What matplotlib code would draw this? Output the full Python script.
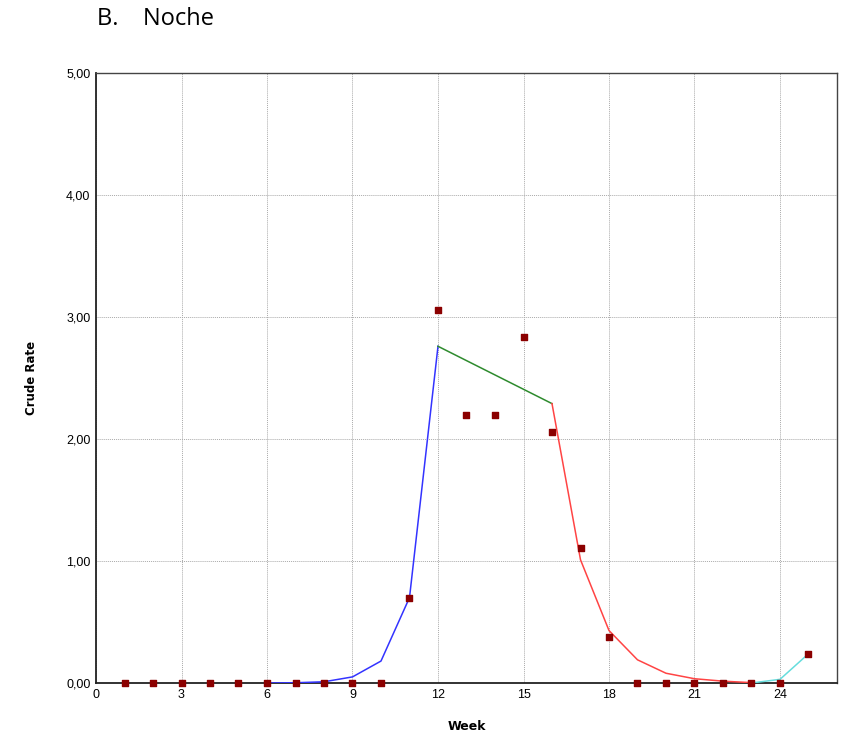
import matplotlib

matplotlib.use("Agg")

import matplotlib.pyplot as plt
from matplotlib.ticker import FuncFormatter

weeks = list(range(1, 26))
crude_rate = [0, 0, 0, 0, 0, 0, 0, 0, 0, 0, 0.70, 3.06, 2.20, 2.20, 2.84,
              2.06, 1.11, 0.38, 0, 0, 0, 0, 0, 0, 0.24]

rise_weeks = [6, 7, 8, 9, 10, 11, 12]
rise_rate = [0, 0.002, 0.01, 0.05, 0.18, 0.70, 2.76]
plateau_weeks = [12, 16]
plateau_rate = [2.76, 2.29]
decline_weeks = [16, 17, 18, 19, 20, 21, 22, 23]
decline_rate = [2.29, 1.01, 0.43, 0.19, 0.08, 0.035, 0.015, 0.003]
tail_weeks = [23, 24, 25]
tail_rate = [0.0, 0.03, 0.24]

fig = plt.figure(figsize=(8.43, 7.39), dpi=100)
ax = fig.add_axes([96 / 843, 1 - 683 / 739, (837 - 96) / 843, (683 - 73) / 739])

ax.plot(rise_weeks, rise_rate, color="#3333ff", lw=1.1, zorder=3)
ax.plot(plateau_weeks, plateau_rate, color="#2e8b2e", lw=1.1, zorder=3)
ax.plot(decline_weeks, decline_rate, color="#ff4444", lw=1.1, zorder=3)
ax.plot(tail_weeks, tail_rate, color="#66dddd", lw=1.1, zorder=3)
ax.scatter(weeks, crude_rate, marker="s", s=22, color="#8b0000", zorder=4, clip_on=False)

ax.set_xlim(0, 26)
ax.set_ylim(0, 5)
ax.set_xticks(range(0, 25, 3))
ax.set_yticks([0, 1, 2, 3, 4, 5])
ax.yaxis.set_major_formatter(FuncFormatter(lambda v, _: f"{v:.2f}".replace(".", ",")))
ax.tick_params(length=0, pad=4)
for lbl in ax.get_xticklabels() + ax.get_yticklabels():
    lbl.set_family("Liberation Sans")
    lbl.set_fontsize(9)
ax.grid(True, color="#aaaaaa", ls=(0, (1, 1)), lw=0.7)
ax.set_axisbelow(True)

for side in ("left", "bottom"):
    ax.spines[side].set_color("#222222")
    ax.spines[side].set_linewidth(1.3)
for side in ("top", "right"):
    ax.spines[side].set_color("#444444")
    ax.spines[side].set_linewidth(1.0)

ax.set_xlabel("Week", fontsize=9, fontweight="bold", labelpad=14)
ax.set_ylabel("Crude Rate", fontsize=8.5, fontweight="bold", labelpad=20)

fig.text(97 / 843, 1 - 19 / 739, "B.    Noche", fontsize=17, va="center", ha="left",
         family="Open Sans")

fig.savefig("out.png", dpi=100)
